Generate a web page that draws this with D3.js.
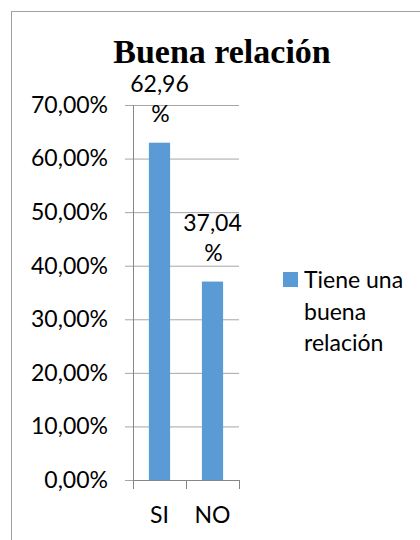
<!DOCTYPE html>
<html>
<head>
<meta charset="utf-8">
<script src="https://cdn.jsdelivr.net/npm/d3@7"></script>
<style>
  body { margin: 0; background: #fff; }
  text { font-family: Lato, "Noto Sans", sans-serif; }
</style>
</head>
<body>
<svg id="chart"></svg>
<script>
const categories = ['SI', 'NO'];
const values = [0.6296, 0.3704];
const yTicks = [0, 0.1, 0.2, 0.3, 0.4, 0.5, 0.6, 0.7];
const legendLines = ['Tiene una', 'buena', 'relación'];
const titleText = 'Buena relación';

const svgWidth = 420, svgHeight = 540;
const plotLeft = 133, plotRight = 239, plotTop = 105, plotBottom = 480;
const fontSize = 23;

const locale = d3.formatLocale({decimal: ',', thousands: '.', grouping: [3], currency: ['', '€']});
const pct = locale.format('.2%');
const num = locale.format('.2f');

const svg = d3.select('#chart')
    .attr('width', svgWidth)
    .attr('height', svgHeight);

svg.append('rect')
    .attr('x', 11.5)
    .attr('y', 11.5)
    .attr('width', 500)
    .attr('height', 600)
    .attr('fill', 'white')
    .attr('stroke', '#a0a0a0');

const y = d3.scaleLinear().domain([0, 0.7]).range([plotBottom, plotTop]);
const x = d3.scaleBand().domain(categories).range([plotLeft, plotRight]);

// gridlines
const grid = svg.append('g')
    .attr('transform', `translate(${plotRight},0)`)
    .call(d3.axisLeft(y).tickValues(yTicks).tickSize(plotRight - plotLeft + 8).tickFormat(''));
grid.select('.domain').remove();
grid.selectAll('line').attr('stroke', '#a6a6a6');

// bars
svg.selectAll('.bar')
    .data(values)
    .enter()
    .append('rect')
    .attr('class', 'bar')
    .attr('x', (d, i) => x(categories[i]) + x.bandwidth() * 0.3)
    .attr('width', x.bandwidth() * 0.4)
    .attr('y', d => y(d))
    .attr('height', d => y(0) - y(d))
    .attr('fill', '#5b9bd5');

// y axis
const yAxis = svg.append('g')
    .attr('transform', `translate(${plotLeft},0)`)
    .call(d3.axisLeft(y).tickValues(yTicks).tickSize(0).tickPadding(25).tickFormat(pct));
yAxis.select('.domain').attr('stroke', '#868686');
yAxis.selectAll('text')
    .attr('font-size', fontSize)
    .attr('fill', '#000')
    .style('font-family', 'Lato, sans-serif');

// x axis ticks at band edges
const edge = d3.scaleLinear().domain([0, categories.length]).range([plotLeft, plotRight]);
const xEdge = svg.append('g')
    .attr('transform', `translate(0,${plotBottom})`)
    .call(d3.axisBottom(edge).ticks(categories.length).tickSize(9).tickSizeOuter(0).tickFormat(''));
xEdge.selectAll('path, line').attr('stroke', '#868686');

const xAxis = svg.append('g')
    .attr('transform', `translate(0,${plotBottom})`)
    .call(d3.axisBottom(x).tickSize(0).tickPadding(27));
xAxis.select('.domain').remove();
xAxis.selectAll('text')
    .attr('font-size', fontSize)
    .attr('fill', '#000')
    .style('font-family', 'Lato, sans-serif');

// data labels (wrapped on two lines)
const labels = svg.selectAll('.lbl')
    .data(values)
    .enter()
    .append('text')
    .attr('class', 'lbl')
    .attr('text-anchor', 'middle')
    .attr('font-size', fontSize)
    .attr('fill', '#000');
labels.append('tspan')
    .attr('x', (d, i) => x(categories[i]) + x.bandwidth() / 2)
    .attr('y', d => y(d) - 51)
    .text(d => num(d * 100));
labels.append('tspan')
    .attr('x', (d, i) => x(categories[i]) + x.bandwidth() / 2 + 1)
    .attr('y', d => y(d) - 21)
    .text('%');

// title
svg.append('text')
    .text(titleText)
    .attr('x', 222)
    .attr('y', 63)
    .attr('text-anchor', 'middle')
    .attr('font-size', 34)
    .attr('font-weight', 'bold')
    .style('font-family', '"Liberation Serif", "Times New Roman", serif');

// legend
svg.append('rect')
    .attr('x', 283)
    .attr('y', 272)
    .attr('width', 15)
    .attr('height', 15)
    .attr('fill', '#5b9bd5');

svg.append('text')
    .attr('font-size', fontSize)
    .attr('fill', '#000')
    .selectAll('tspan')
    .data(legendLines)
    .enter()
    .append('tspan')
    .attr('x', 304)
    .attr('y', (d, i) => 288 + i * 31.5)
    .text(d => d);
</script>
</body>
</html>
